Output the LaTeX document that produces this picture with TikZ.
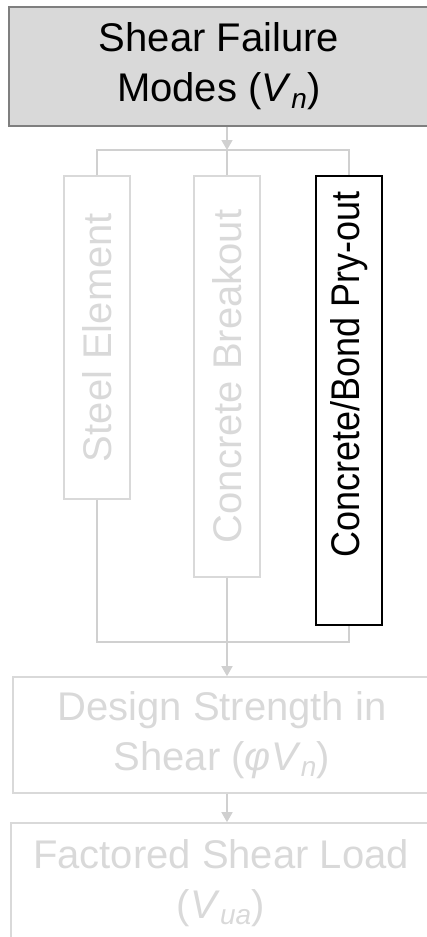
\documentclass[tikz,border=0pt]{standalone}
\usepackage{fontspec}
\setmainfont{Liberation Sans}
\usepackage{graphicx}
\usepackage{xcolor}
\usepackage{tikz}
\usetikzlibrary{arrows.meta,calc}
\definecolor{fade}{HTML}{D9D9D9}
\definecolor{wire}{HTML}{D0D0D0}
\definecolor{headfill}{HTML}{D9D9D9}
\definecolor{headline}{HTML}{7F7F7F}
\newcommand{\Vsub}[1]{(\textit{V}\textsubscript{\textit{#1}})}

\begin{document}
\begin{tikzpicture}[x=1pt,y=-1pt,>={Triangle[length=10pt,width=11pt]}]
\tikzset{h/.style={draw=headline,line width=1.6pt,fill=headfill,minimum width=420pt,minimum height=119pt,align=center,font=\fontsize{40pt}{50pt}\selectfont}, b/.style={draw=fade,line width=1.6pt,text=fade,minimum width=418pt,minimum height=116pt,align=center,font=\fontsize{40pt}{50pt}\selectfont}, v/.style={draw=fade,line width=1.6pt,text=fade,minimum width=66pt,inner sep=0pt,font=\fontsize{40pt}{48pt}\selectfont}, l/.style={draw=wire,line width=1.5pt}, a/.style={->,draw=wire,fill=wire,line width=1.5pt}}
\useasboundingbox (0,0) rectangle (426,937);
\node[h] (modes) at (219,66.5) {Shear Failure\\Modes \Vsub{n}};
\node[v,minimum height=323pt] (steel) at (97,337.5) {\rotatebox{90}{Steel Element}};
\node[v,minimum height=401pt] (brk) at (227,376.5) {\rotatebox{90}{Concrete Breakout}};
\node[v,minimum height=449pt,draw=black,text=black,fill=white] (pry) at (349,400.5) {\rotatebox{90}{\hspace*{52pt}\scalebox{0.9}[1]{Concrete/Bond Pry-out}}};
\node[b] (design) at (222,735) {Design Strength in\\Shear (\textit{φ}\textit{V}\textsubscript{\textit{n}})};
\node[b,minimum width=420pt,minimum height=120pt] (load) at (221,883) {Factored Shear Load\\\Vsub{ua}};
\coordinate (jt) at (227,150);
\coordinate (jb) at (227,642);
\draw[a] (modes.south -| jt)--(jt);\draw[l] (steel.north) |- (jt) -| (pry.north);\draw[l] (jt)--(brk.north);
\draw[l] (steel.south) |- (jb) -| (pry.south);\draw[a] (brk.south)--(brk.south |- design.north);
\draw[a] (design.south -| jb)--(load.north -| jb);
\end{tikzpicture}
\end{document}
